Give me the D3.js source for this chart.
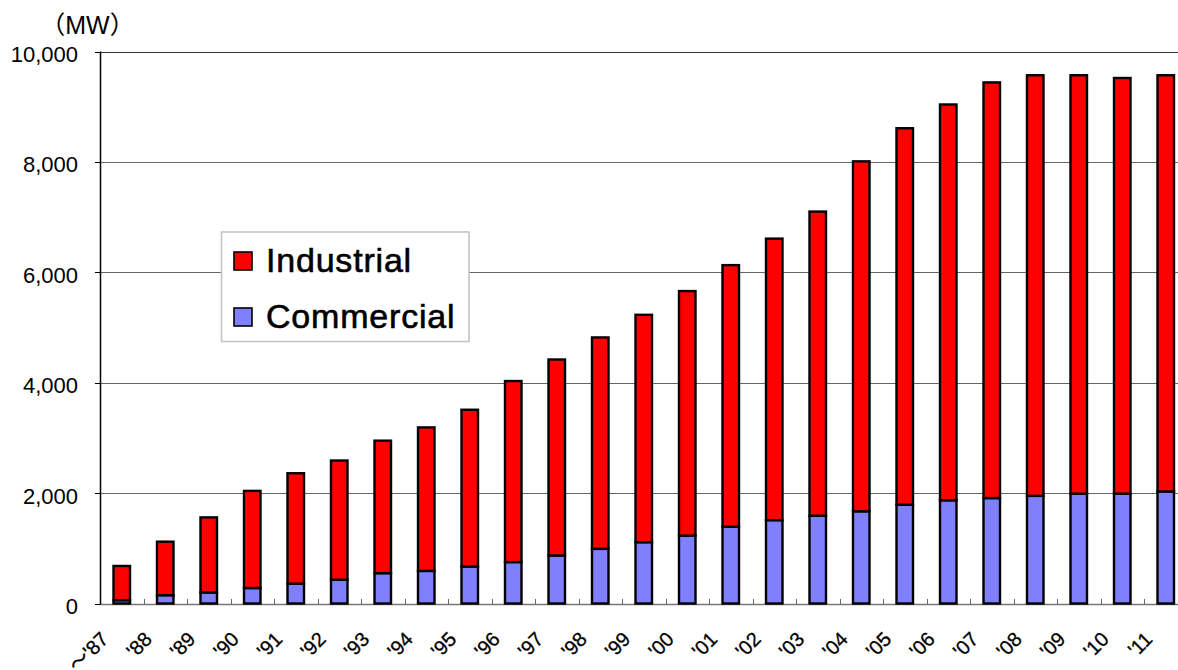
<!DOCTYPE html>
<html>
<head>
<meta charset="utf-8">
<script src="https://cdn.jsdelivr.net/npm/d3@7/dist/d3.min.js"></script>
<style>
  body { margin: 0; background: #fff; }
  svg { display: block; }
</style>
</head>
<body>
<svg id="chart" width="1178" height="670"></svg>
<script>
// Installed capacity by fiscal year (MW)
const years = ["1987","1988","1989","1990","1991","1992","1993","1994","1995","1996",
  "1997","1998","1999","2000","2001","2002","2003","2004","2005","2006",
  "2007","2008","2009","2010","2011"];
const tickLabels = ["～'87","'88","'89","'90","'91","'92","'93","'94","'95","'96",
  "'97","'98","'99","'00","'01","'02","'03","'04","'05","'06",
  "'07","'08","'09","'10","'11"];
const commercial = [60, 150, 200, 280, 360, 430, 550, 590, 670, 750,
  870, 990, 1110, 1230, 1390, 1510, 1590, 1670, 1790, 1870,
  1910, 1950, 1990, 1990, 2030];
const industrial = [620, 970, 1360, 1760, 2000, 2160, 2400, 2600, 2840, 3280,
  3550, 3830, 4120, 4430, 4740, 5100, 5510, 6340, 6820, 7170,
  7530, 7620, 7580, 7530, 7540];
const yTicks = [0, 2000, 4000, 6000, 8000, 10000];
const seriesKeys = ["commercial", "industrial"];
const legendNames = ["Industrial", "Commercial"];
const legendKeys = ["industrial", "commercial"];
const colors = { industrial: "#ff0000", commercial: "#8080ff" };

(function draw() {
  const svg = d3.select("#chart");
  const W = 1178;
  const plotL = 100, plotR = 1187.5, plotT = 51.5, plotB = 603.5;

  const rows = years.map((yr, i) => ({ year: yr, commercial: commercial[i], industrial: industrial[i] }));

  const x = d3.scaleBand().domain(years).range([plotL, plotR]).padding(0);
  const y = d3.scaleLinear().domain([0, 10000]).range([plotB, plotT]);

  const sans = "'Liberation Sans', Arial, 'DejaVu Sans', sans-serif";

  // Horizontal gridlines
  svg.append("g").selectAll("line")
    .data(yTicks.filter(t => t > 0))
    .join("line")
    .attr("x1", plotL).attr("x2", W)
    .attr("y1", d => Math.round(y(d)) + 0.5)
    .attr("y2", d => Math.round(y(d)) + 0.5)
    .attr("stroke", d => d === 10000 ? "#333" : "#666")
    .attr("stroke-width", 1);

  // X baseline and category separators
  svg.append("line")
    .attr("x1", plotL).attr("x2", W)
    .attr("y1", Math.round(y(0)) + 0.5).attr("y2", Math.round(y(0)) + 0.5)
    .attr("stroke", "#777").attr("stroke-width", 1.5);
  svg.append("g").selectAll("line")
    .data(years.slice(1))
    .join("line")
    .attr("x1", d => Math.round(x(d)) + 0.5)
    .attr("x2", d => Math.round(x(d)) + 0.5)
    .attr("y1", Math.round(y(0)))
    .attr("y2", Math.round(y(0)) - 5)
    .attr("stroke", "#666").attr("stroke-width", 1);

  // Stacked bars
  const stacked = d3.stack().keys(seriesKeys)(rows);
  const barW = 16.5;
  svg.append("g").selectAll("g")
    .data(stacked)
    .join("g")
    .attr("fill", s => colors[s.key])
    .selectAll("rect")
    .data(s => s)
    .join("rect")
    .attr("x", d => x(d.data.year) + (x.bandwidth() - barW) / 2)
    .attr("width", barW)
    .attr("y", d => y(d[1]))
    .attr("height", d => y(d[0]) - y(d[1]))
    .attr("stroke", "#000")
    .attr("stroke-width", 2.4);

  // Y axis
  svg.append("line")
    .attr("x1", plotL + 0.5).attr("x2", plotL + 0.5)
    .attr("y1", plotT).attr("y2", plotB + 1)
    .attr("stroke", "#000").attr("stroke-width", 1.5);
  const yt = svg.append("g").selectAll("g").data(yTicks).join("g");
  yt.append("line")
    .attr("x1", plotL - 5).attr("x2", plotL)
    .attr("y1", d => Math.round(y(d)) + 0.5)
    .attr("y2", d => Math.round(y(d)) + 0.5)
    .attr("stroke", "#000").attr("stroke-width", 1);
  yt.append("text")
    .attr("x", 78)
    .attr("y", d => y(d) + 10.5)
    .attr("text-anchor", "end")
    .attr("font-family", sans)
    .attr("font-size", 22)
    .attr("fill", "#000")
    .text(d => d3.format(",")(d));

  // Unit label
  svg.append("text")
    .attr("x", 87.5).attr("y", 34)
    .attr("text-anchor", "middle")
    .attr("font-family", sans + ", 'Noto Sans CJK JP'")
    .attr("font-size", 25)
    .attr("fill", "#000")
    .text("（MW）");

  // Category labels, rotated, ending just left of each bar
  svg.append("g").selectAll("text")
    .data(years)
    .join("text")
    .attr("transform", d => `translate(${x(d) + x.bandwidth() / 2 - 17},${635.5}) rotate(-45)`)
    .attr("text-anchor", "end")
    .attr("dy", "0.35em")
    .attr("font-family", sans + ", 'Noto Sans CJK JP'")
    .attr("font-size", 20)
    .attr("fill", "#000")
    .attr("stroke", "#000").attr("stroke-width", 0.3)
    .text((d, i) => tickLabels[i]);

  // Legend
  const lg = svg.append("g");
  lg.append("rect")
    .attr("x", 221.5).attr("y", 232)
    .attr("width", 247.5).attr("height", 109.5)
    .attr("fill", "#fff").attr("stroke", "#c4c4c4").attr("stroke-width", 1.6);
  const rowsY = [252, 308];
  legendKeys.forEach((k, i) => {
    lg.append("rect")
      .attr("x", 234).attr("y", rowsY[i])
      .attr("width", 18).attr("height", 18)
      .attr("fill", colors[k]).attr("stroke", "#000").attr("stroke-width", 1.6);
    lg.append("text")
      .attr("x", 266).attr("y", rowsY[i] + 19.5)
      .attr("font-family", sans)
      .attr("font-size", 34)
      .attr("letter-spacing", 0.8)
      .attr("fill", "#000")
      .attr("stroke", "#000").attr("stroke-width", 0.6)
      .text(legendNames[i]);
  });
})();
</script>
</body>
</html>
